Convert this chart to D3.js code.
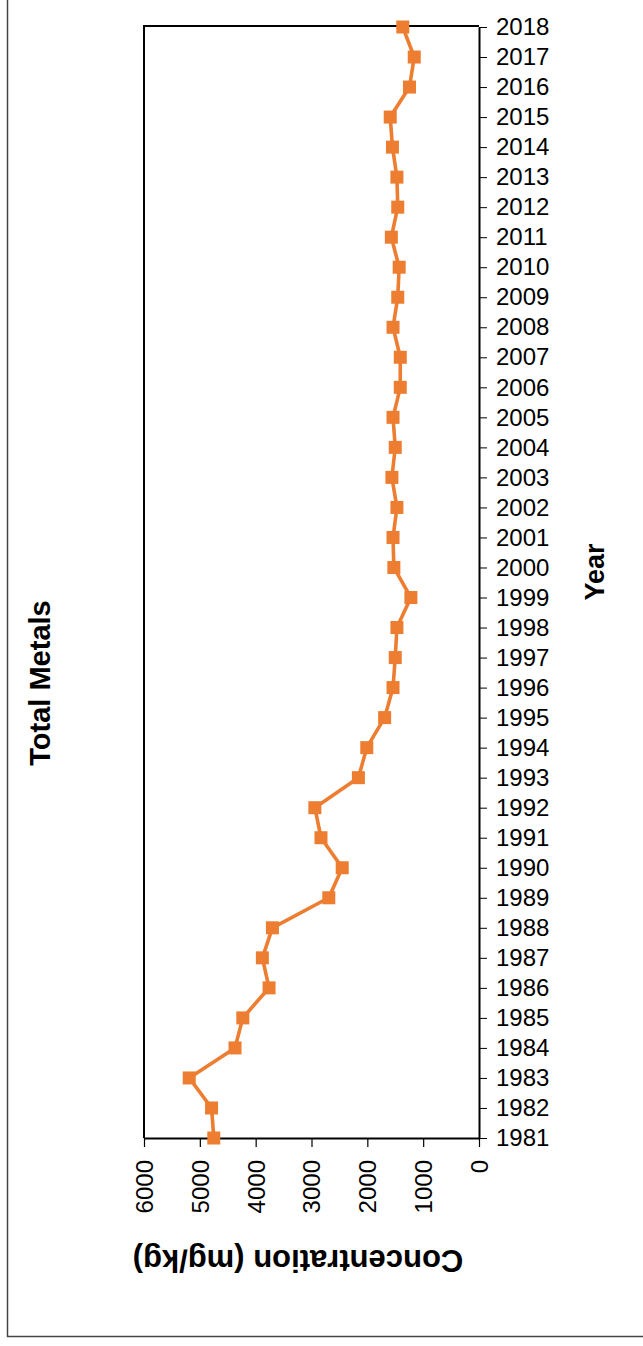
<!DOCTYPE html>
<html>
<head>
<meta charset="utf-8">
<script src="https://cdn.jsdelivr.net/npm/d3@7"></script>
<style>
  body { margin: 0; background: #fff; }
  svg { display: block; }
</style>
</head>
<body>
<div id="chart"></div>
<script>
// yearly values
let years = [1981, 1982, 1983, 1984, 1985, 1986, 1987, 1988, 1989, 1990,
             1991, 1992, 1993, 1994, 1995, 1996, 1997, 1998, 1999, 2000,
             2001, 2002, 2003, 2004, 2005, 2006, 2007, 2008, 2009, 2010,
             2011, 2012, 2013, 2014, 2015, 2016, 2017, 2018];
let totalMetals = [4750, 4790, 5190, 4370, 4230, 3760, 3880, 3700, 2690, 2450,
                   2830, 2940, 2160, 2010, 1690, 1540, 1500, 1470, 1220, 1525,
                   1540, 1470, 1560, 1500, 1540, 1410, 1410, 1540, 1455, 1430,
                   1570, 1455, 1470, 1550, 1590, 1245, 1160, 1365];
let concTicks = [0, 1000, 2000, 3000, 4000, 5000, 6000];

let W = 643, H = 1346;
let plot = {left: 144, right: 479, top: 26, bottom: 1138};

let svg = d3.select("#chart").append("svg")
    .attr("width", W)
    .attr("height", H)
    .style("font-family", "'Liberation Sans', Arial, sans-serif");

// outer chart frame
svg.append("rect")
    .attr("x", 7.5).attr("y", -10)
    .attr("width", 660).attr("height", 1346.5)
    .attr("fill", "none")
    .attr("stroke", "#444")
    .attr("stroke-width", 1.5);

// concentration runs right to left, years bottom to top
let x = d3.scaleLinear().domain([0, 6000]).range([plot.right, plot.left]);
let y = d3.scaleLinear().domain([1981, 2018]).range([plot.bottom, plot.top + 1]);

// plot area border (left + top)
svg.append("path")
    .attr("d", `M${plot.left},${plot.bottom} V${plot.top} H${plot.right}`)
    .attr("fill", "none")
    .attr("stroke", "#000")
    .attr("stroke-width", 2);

// year axis on the right
let yAxis = svg.append("g")
    .attr("transform", `translate(${plot.right},0)`)
    .call(d3.axisRight(y).tickValues(years).tickFormat(d3.format("d")).tickSize(8).tickPadding(9).tickSizeOuter(0));
yAxis.select(".domain").attr("stroke-width", 2);
yAxis.selectAll(".tick line").attr("stroke-width", 1);
yAxis.selectAll("text").style("font-size", "24px").attr("fill", "#000");

// concentration axis at the bottom, labels turned
let xAxis = svg.append("g")
    .attr("transform", `translate(0,${plot.bottom})`)
    .call(d3.axisBottom(x).tickValues(concTicks).tickFormat(d3.format("d")).tickSize(9).tickSizeOuter(0));
xAxis.select(".domain").attr("stroke-width", 2);
xAxis.selectAll(".tick line").attr("stroke-width", 1.2);
xAxis.selectAll("text")
    .style("font-size", "24px")
    .attr("fill", "#000")
    .attr("transform", "rotate(-90)")
    .attr("text-anchor", "end")
    .attr("x", -22)
    .attr("y", 0)
    .attr("dy", "0.35em");

// series
let pts = years.map((yr, i) => ({year: yr, v: totalMetals[i]}));
let line = d3.line().x(d => x(d.v)).y(d => y(d.year));

svg.append("path")
    .datum(pts)
    .attr("d", line)
    .attr("fill", "none")
    .attr("stroke", "#ED7D31")
    .attr("stroke-width", 3.6)
    .attr("stroke-linejoin", "round");

let ms = 13;
svg.append("g").selectAll("rect")
    .data(pts)
    .join("rect")
    .attr("x", d => x(d.v) - ms / 2)
    .attr("y", d => y(d.year) - ms / 2)
    .attr("width", ms)
    .attr("height", ms)
    .attr("fill", "#ED7D31");

// titles
svg.append("text")
    .attr("transform", "translate(40,683) rotate(-90)")
    .attr("text-anchor", "middle")
    .attr("dy", "0.35em")
    .style("font-size", "29px")
    .style("font-weight", "bold")
    .text("Total Metals");

svg.append("text")
    .attr("transform", "translate(595,572) rotate(-90)")
    .attr("text-anchor", "middle")
    .attr("dy", "0.35em")
    .style("font-size", "27px")
    .style("font-weight", "bold")
    .text("Year");

svg.append("text")
    .attr("transform", "translate(298,1261) rotate(180)")
    .attr("text-anchor", "middle")
    .attr("dy", "0.35em")
    .style("font-size", "31px")
    .style("font-weight", "bold")
    .text("Concentration (mg/kg)");
</script>
</body>
</html>
